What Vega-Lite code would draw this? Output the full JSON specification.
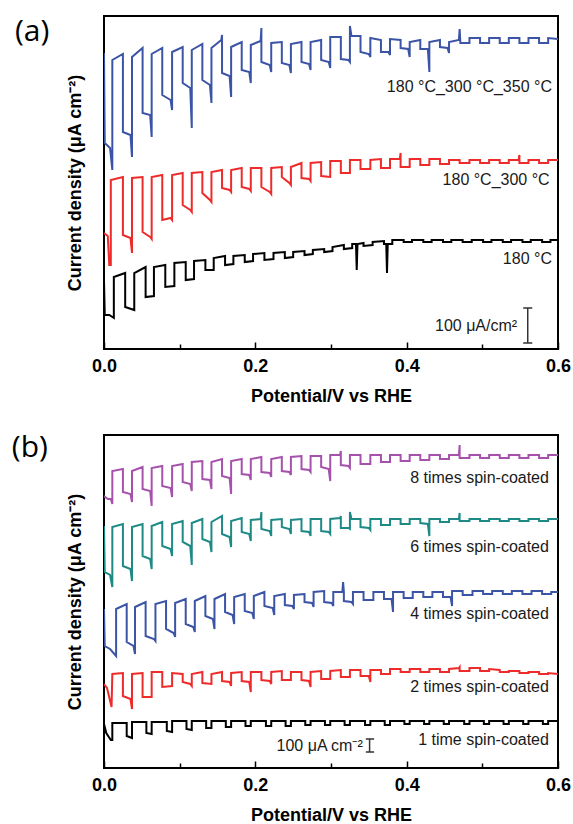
{
"$schema":"https://vega.github.io/schema/vega-lite/v6.json",
"background":"white",
"padding":{"left":10,"top":15,"right":5,"bottom":0},
"spacing":26,
"config":{"view":{"stroke":"black","strokeWidth":2}},
"datasets":{
"c":[
{"s":"a3","x":0,"y":296},{"s":"a3","x":1,"y":206},{"s":"a3","x":8,"y":201},{"s":"a3","x":11,"y":179},
{"s":"a3","x":11,"y":289},{"s":"a3","x":25,"y":295},{"s":"a3","x":25,"y":217},{"s":"a3","x":35,"y":214},
{"s":"a3","x":37,"y":192},{"s":"a3","x":37,"y":292},{"s":"a3","x":51,"y":301},{"s":"a3","x":51,"y":236},{"s":"a3","x":61,"y":234},
{"s":"a3","x":63,"y":212},{"s":"a3","x":63,"y":295},{"s":"a3","x":77,"y":301},{"s":"a3","x":77,"y":254},{"s":"a3","x":88,"y":249},
{"s":"a3","x":90,"y":239},{"s":"a3","x":90,"y":297},{"s":"a3","x":104,"y":302},{"s":"a3","x":104,"y":266},{"s":"a3","x":114,"y":261},
{"s":"a3","x":116,"y":221},{"s":"a3","x":116,"y":299},{"s":"a3","x":130,"y":305},{"s":"a3","x":130,"y":269},{"s":"a3","x":140,"y":264},
{"s":"a3","x":142,"y":246},{"s":"a3","x":142,"y":301},{"s":"a3","x":155,"y":309},{"s":"a3","x":156,"y":314},{"s":"a3","x":156,"y":276},{"s":"a3","x":166,"y":273},
{"s":"a3","x":168,"y":252},{"s":"a3","x":168,"y":302},{"s":"a3","x":182,"y":307},{"s":"a3","x":182,"y":279},{"s":"a3","x":192,"y":277},
{"s":"a3","x":194,"y":266},{"s":"a3","x":194,"y":304},{"s":"a3","x":207,"y":308},{"s":"a3","x":208,"y":321},{"s":"a3","x":208,"y":287},{"s":"a3","x":219,"y":284},
{"s":"a3","x":221,"y":277},{"s":"a3","x":221,"y":306},{"s":"a3","x":235,"y":307},{"s":"a3","x":235,"y":286},{"s":"a3","x":245,"y":284},
{"s":"a3","x":247,"y":276},{"s":"a3","x":247,"y":305},{"s":"a3","x":261,"y":307},{"s":"a3","x":261,"y":287},{"s":"a3","x":271,"y":285},
{"s":"a3","x":273,"y":279},{"s":"a3","x":273,"y":307},{"s":"a3","x":287,"y":309},{"s":"a3","x":287,"y":289},{"s":"a3","x":297,"y":287},
{"s":"a3","x":299,"y":281},{"s":"a3","x":299,"y":312},{"s":"a3","x":313,"y":312},{"s":"a3","x":313,"y":290},{"s":"a3","x":323,"y":289},
{"s":"a3","x":325,"y":287},{"s":"a3","x":325,"y":323},{"s":"a3","x":327,"y":313},{"s":"a3","x":339,"y":313},{"s":"a3","x":339,"y":297},{"s":"a3","x":350,"y":295},
{"s":"a3","x":352,"y":292},{"s":"a3","x":352,"y":311},{"s":"a3","x":366,"y":309},{"s":"a3","x":366,"y":297},{"s":"a3","x":376,"y":297},
{"s":"a3","x":378,"y":294},{"s":"a3","x":378,"y":310},{"s":"a3","x":392,"y":309},{"s":"a3","x":392,"y":301},{"s":"a3","x":402,"y":300},
{"s":"a3","x":404,"y":292},{"s":"a3","x":404,"y":307},{"s":"a3","x":418,"y":309},{"s":"a3","x":418,"y":300},{"s":"a3","x":428,"y":300},
{"s":"a3","x":430,"y":277},{"s":"a3","x":430,"y":307},{"s":"a3","x":444,"y":309},{"s":"a3","x":444,"y":302},{"s":"a3","x":454,"y":301},
{"s":"a3","x":456,"y":296},{"s":"a3","x":456,"y":307},{"s":"a3","x":469,"y":309},{"s":"a3","x":470,"y":320},{"s":"a3","x":471,"y":306},{"s":"a3","x":481,"y":306},
{"s":"a3","x":483,"y":306},{"s":"a3","x":483,"y":311},{"s":"a3","x":497,"y":311},{"s":"a3","x":497,"y":306},
{"s":"a3","x":509,"y":306},{"s":"a3","x":509,"y":311},{"s":"a3","x":523,"y":311},{"s":"a3","x":523,"y":306},
{"s":"a3","x":535,"y":306},{"s":"a3","x":535,"y":311},{"s":"a3","x":549,"y":311},{"s":"a3","x":549,"y":306},
{"s":"a3","x":561,"y":306},{"s":"a3","x":561,"y":311},{"s":"a3","x":575,"y":311},{"s":"a3","x":575,"y":306},
{"s":"a3","x":587,"y":306},{"s":"a3","x":587,"y":311},{"s":"a3","x":600,"y":310},

{"s":"a2","x":0,"y":116},{"s":"a2","x":5,"y":113},{"s":"a2","x":7,"y":84},{"s":"a2","x":9,"y":84},
{"s":"a2","x":9,"y":169},{"s":"a2","x":25,"y":172},{"s":"a2","x":25,"y":114},{"s":"a2","x":35,"y":111},
{"s":"a2","x":37,"y":96},{"s":"a2","x":37,"y":171},{"s":"a2","x":51,"y":172},{"s":"a2","x":51,"y":117},{"s":"a2","x":61,"y":112},
{"s":"a2","x":63,"y":110},{"s":"a2","x":63,"y":172},{"s":"a2","x":77,"y":174},{"s":"a2","x":77,"y":129},{"s":"a2","x":88,"y":131},
{"s":"a2","x":90,"y":129},{"s":"a2","x":90,"y":174},{"s":"a2","x":104,"y":176},{"s":"a2","x":104,"y":144},{"s":"a2","x":114,"y":139},
{"s":"a2","x":116,"y":137},{"s":"a2","x":116,"y":176},{"s":"a2","x":130,"y":177},{"s":"a2","x":130,"y":156},{"s":"a2","x":140,"y":149},
{"s":"a2","x":142,"y":147},{"s":"a2","x":142,"y":177},{"s":"a2","x":156,"y":179},{"s":"a2","x":156,"y":161},{"s":"a2","x":166,"y":159},
{"s":"a2","x":168,"y":157},{"s":"a2","x":168,"y":179},{"s":"a2","x":182,"y":181},{"s":"a2","x":182,"y":162},{"s":"a2","x":192,"y":160},
{"s":"a2","x":194,"y":158},{"s":"a2","x":194,"y":181},{"s":"a2","x":208,"y":181},{"s":"a2","x":208,"y":162},{"s":"a2","x":219,"y":157},
{"s":"a2","x":221,"y":155},{"s":"a2","x":221,"y":181},{"s":"a2","x":235,"y":182},{"s":"a2","x":235,"y":172},{"s":"a2","x":245,"y":166},
{"s":"a2","x":247,"y":164},{"s":"a2","x":247,"y":182},{"s":"a2","x":261,"y":186},{"s":"a2","x":261,"y":171},{"s":"a2","x":271,"y":170},
{"s":"a2","x":273,"y":168},{"s":"a2","x":273,"y":186},{"s":"a2","x":287,"y":187},{"s":"a2","x":287,"y":173},
{"s":"a2","x":299,"y":172},{"s":"a2","x":299,"y":188},{"s":"a2","x":313,"y":188},{"s":"a2","x":313,"y":176},
{"s":"a2","x":325,"y":176},{"s":"a2","x":325,"y":189},{"s":"a2","x":339,"y":189},{"s":"a2","x":339,"y":180},
{"s":"a2","x":352,"y":180},{"s":"a2","x":352,"y":189},{"s":"a2","x":366,"y":190},{"s":"a2","x":366,"y":181},
{"s":"a2","x":378,"y":181},{"s":"a2","x":378,"y":190},{"s":"a2","x":391,"y":190},{"s":"a2","x":392,"y":196},{"s":"a2","x":392,"y":182},
{"s":"a2","x":404,"y":182},{"s":"a2","x":404,"y":190},{"s":"a2","x":418,"y":190},{"s":"a2","x":418,"y":184},
{"s":"a2","x":430,"y":184},{"s":"a2","x":430,"y":190},{"s":"a2","x":444,"y":190},{"s":"a2","x":444,"y":185},
{"s":"a2","x":456,"y":185},{"s":"a2","x":456,"y":189},{"s":"a2","x":470,"y":189},{"s":"a2","x":470,"y":186},
{"s":"a2","x":483,"y":186},{"s":"a2","x":483,"y":189},{"s":"a2","x":497,"y":189},{"s":"a2","x":497,"y":186},
{"s":"a2","x":509,"y":186},{"s":"a2","x":509,"y":189},{"s":"a2","x":523,"y":189},{"s":"a2","x":523,"y":186},
{"s":"a2","x":535,"y":186},{"s":"a2","x":535,"y":189},{"s":"a2","x":548,"y":189},{"s":"a2","x":549,"y":194},{"s":"a2","x":549,"y":186},
{"s":"a2","x":561,"y":186},{"s":"a2","x":561,"y":189},{"s":"a2","x":575,"y":189},{"s":"a2","x":575,"y":186},
{"s":"a2","x":587,"y":186},{"s":"a2","x":587,"y":189},{"s":"a2","x":600,"y":189},

{"s":"a1","x":0,"y":69},{"s":"a1","x":1,"y":34},{"s":"a1","x":7,"y":34},{"s":"a1","x":13,"y":31},
{"s":"a1","x":13,"y":72},{"s":"a1","x":28,"y":76},{"s":"a1","x":28,"y":42},{"s":"a1","x":40,"y":39},
{"s":"a1","x":40,"y":76},{"s":"a1","x":55,"y":82},{"s":"a1","x":55,"y":52},{"s":"a1","x":66,"y":53},
{"s":"a1","x":66,"y":82},{"s":"a1","x":81,"y":84},{"s":"a1","x":81,"y":62},{"s":"a1","x":93,"y":63},
{"s":"a1","x":93,"y":86},{"s":"a1","x":108,"y":87},{"s":"a1","x":108,"y":69},{"s":"a1","x":119,"y":70},
{"s":"a1","x":119,"y":88},{"s":"a1","x":134,"y":89},{"s":"a1","x":134,"y":79},{"s":"a1","x":145,"y":79},
{"s":"a1","x":145,"y":91},{"s":"a1","x":160,"y":93},{"s":"a1","x":160,"y":84},{"s":"a1","x":171,"y":85},
{"s":"a1","x":171,"y":93},{"s":"a1","x":186,"y":94},{"s":"a1","x":186,"y":87},{"s":"a1","x":197,"y":88},
{"s":"a1","x":197,"y":95},{"s":"a1","x":212,"y":96},{"s":"a1","x":212,"y":89},{"s":"a1","x":224,"y":90},
{"s":"a1","x":224,"y":96},{"s":"a1","x":239,"y":97},{"s":"a1","x":239,"y":91},{"s":"a1","x":250,"y":92},
{"s":"a1","x":250,"y":97},{"s":"a1","x":265,"y":98},{"s":"a1","x":265,"y":94},{"s":"a1","x":276,"y":95},
{"s":"a1","x":276,"y":99},{"s":"a1","x":291,"y":100},{"s":"a1","x":291,"y":97},{"s":"a1","x":302,"y":98},
{"s":"a1","x":302,"y":102},{"s":"a1","x":317,"y":104},{"s":"a1","x":317,"y":100},{"s":"a1","x":328,"y":101},
{"s":"a1","x":328,"y":105},{"s":"a1","x":333,"y":105},{"s":"a1","x":334,"y":79},{"s":"a1","x":335,"y":105},{"s":"a1","x":343,"y":106},{"s":"a1","x":343,"y":103},{"s":"a1","x":355,"y":104},
{"s":"a1","x":355,"y":107},{"s":"a1","x":370,"y":108},{"s":"a1","x":370,"y":105},{"s":"a1","x":373,"y":105},{"s":"a1","x":374,"y":76},{"s":"a1","x":375,"y":105},{"s":"a1","x":381,"y":105},
{"s":"a1","x":381,"y":109},{"s":"a1","x":396,"y":109},{"s":"a1","x":396,"y":107},{"s":"a1","x":407,"y":107},
{"s":"a1","x":407,"y":109},{"s":"a1","x":422,"y":109},{"s":"a1","x":422,"y":107},{"s":"a1","x":433,"y":107},
{"s":"a1","x":433,"y":109},{"s":"a1","x":448,"y":109},{"s":"a1","x":448,"y":107},{"s":"a1","x":459,"y":107},
{"s":"a1","x":459,"y":109},{"s":"a1","x":474,"y":109},{"s":"a1","x":474,"y":107},{"s":"a1","x":486,"y":107},
{"s":"a1","x":486,"y":109},{"s":"a1","x":501,"y":109},{"s":"a1","x":501,"y":107},{"s":"a1","x":512,"y":107},
{"s":"a1","x":512,"y":109},{"s":"a1","x":527,"y":109},{"s":"a1","x":527,"y":107},{"s":"a1","x":538,"y":107},
{"s":"a1","x":538,"y":109},{"s":"a1","x":553,"y":109},{"s":"a1","x":553,"y":107},{"s":"a1","x":564,"y":107},
{"s":"a1","x":564,"y":109},{"s":"a1","x":579,"y":109},{"s":"a1","x":579,"y":107},{"s":"a1","x":590,"y":107},
{"s":"a1","x":590,"y":109},{"s":"a1","x":600,"y":109},

{"s":"b8","x":0,"y":272},{"s":"b8","x":5,"y":269},{"s":"b8","x":9,"y":269},{"s":"b8","x":11,"y":264},
{"s":"b8","x":11,"y":297},{"s":"b8","x":25,"y":299},{"s":"b8","x":25,"y":276},{"s":"b8","x":35,"y":274},
{"s":"b8","x":37,"y":266},{"s":"b8","x":37,"y":297},{"s":"b8","x":51,"y":301},{"s":"b8","x":51,"y":279},{"s":"b8","x":61,"y":277},
{"s":"b8","x":63,"y":262},{"s":"b8","x":63,"y":300},{"s":"b8","x":77,"y":302},{"s":"b8","x":77,"y":282},{"s":"b8","x":88,"y":280},
{"s":"b8","x":90,"y":271},{"s":"b8","x":90,"y":302},{"s":"b8","x":104,"y":304},{"s":"b8","x":104,"y":286},{"s":"b8","x":114,"y":284},
{"s":"b8","x":116,"y":277},{"s":"b8","x":116,"y":306},{"s":"b8","x":130,"y":307},{"s":"b8","x":130,"y":289},{"s":"b8","x":140,"y":288},
{"s":"b8","x":142,"y":279},{"s":"b8","x":142,"y":306},{"s":"b8","x":156,"y":309},{"s":"b8","x":156,"y":292},{"s":"b8","x":166,"y":290},
{"s":"b8","x":168,"y":274},{"s":"b8","x":168,"y":307},{"s":"b8","x":182,"y":309},{"s":"b8","x":182,"y":294},{"s":"b8","x":192,"y":293},
{"s":"b8","x":194,"y":288},{"s":"b8","x":194,"y":309},{"s":"b8","x":208,"y":311},{"s":"b8","x":208,"y":296},{"s":"b8","x":219,"y":295},
{"s":"b8","x":221,"y":291},{"s":"b8","x":221,"y":309},{"s":"b8","x":235,"y":311},{"s":"b8","x":235,"y":297},{"s":"b8","x":245,"y":296},
{"s":"b8","x":247,"y":293},{"s":"b8","x":247,"y":311},{"s":"b8","x":261,"y":312},{"s":"b8","x":261,"y":299},{"s":"b8","x":271,"y":298},
{"s":"b8","x":273,"y":296},{"s":"b8","x":273,"y":312},{"s":"b8","x":287,"y":312},{"s":"b8","x":287,"y":301},{"s":"b8","x":297,"y":299},
{"s":"b8","x":299,"y":287},{"s":"b8","x":299,"y":313},{"s":"b8","x":312,"y":313},{"s":"b8","x":313,"y":317},{"s":"b8","x":313,"y":303},{"s":"b8","x":323,"y":302},
{"s":"b8","x":325,"y":300},{"s":"b8","x":325,"y":313},{"s":"b8","x":339,"y":313},{"s":"b8","x":339,"y":304},
{"s":"b8","x":352,"y":304},{"s":"b8","x":352,"y":313},{"s":"b8","x":366,"y":313},{"s":"b8","x":366,"y":306},
{"s":"b8","x":378,"y":306},{"s":"b8","x":378,"y":313},{"s":"b8","x":392,"y":313},{"s":"b8","x":392,"y":307},
{"s":"b8","x":404,"y":307},{"s":"b8","x":404,"y":313},{"s":"b8","x":418,"y":313},{"s":"b8","x":418,"y":308},
{"s":"b8","x":430,"y":308},{"s":"b8","x":430,"y":313},{"s":"b8","x":444,"y":313},{"s":"b8","x":444,"y":309},
{"s":"b8","x":456,"y":309},{"s":"b8","x":456,"y":313},{"s":"b8","x":469,"y":313},{"s":"b8","x":470,"y":323},{"s":"b8","x":470,"y":310},
{"s":"b8","x":483,"y":310},{"s":"b8","x":483,"y":313},{"s":"b8","x":497,"y":313},{"s":"b8","x":497,"y":310},
{"s":"b8","x":509,"y":310},{"s":"b8","x":509,"y":313},{"s":"b8","x":523,"y":313},{"s":"b8","x":523,"y":310},
{"s":"b8","x":535,"y":310},{"s":"b8","x":535,"y":313},{"s":"b8","x":549,"y":313},{"s":"b8","x":549,"y":310},
{"s":"b8","x":561,"y":310},{"s":"b8","x":561,"y":313},{"s":"b8","x":575,"y":313},{"s":"b8","x":575,"y":310},
{"s":"b8","x":587,"y":310},{"s":"b8","x":587,"y":313},{"s":"b8","x":600,"y":313},

{"s":"b6","x":0,"y":242},{"s":"b6","x":1,"y":196},{"s":"b6","x":8,"y":193},{"s":"b6","x":11,"y":181},
{"s":"b6","x":11,"y":241},{"s":"b6","x":25,"y":244},{"s":"b6","x":25,"y":202},{"s":"b6","x":35,"y":199},
{"s":"b6","x":37,"y":187},{"s":"b6","x":37,"y":241},{"s":"b6","x":51,"y":244},{"s":"b6","x":51,"y":212},{"s":"b6","x":61,"y":209},
{"s":"b6","x":63,"y":199},{"s":"b6","x":63,"y":242},{"s":"b6","x":77,"y":246},{"s":"b6","x":77,"y":222},{"s":"b6","x":88,"y":219},
{"s":"b6","x":90,"y":212},{"s":"b6","x":90,"y":244},{"s":"b6","x":104,"y":247},{"s":"b6","x":104,"y":226},{"s":"b6","x":114,"y":222},
{"s":"b6","x":116,"y":203},{"s":"b6","x":116,"y":245},{"s":"b6","x":130,"y":249},{"s":"b6","x":130,"y":229},{"s":"b6","x":140,"y":226},
{"s":"b6","x":142,"y":216},{"s":"b6","x":142,"y":246},{"s":"b6","x":156,"y":252},{"s":"b6","x":156,"y":234},{"s":"b6","x":166,"y":231},
{"s":"b6","x":168,"y":221},{"s":"b6","x":168,"y":247},{"s":"b6","x":182,"y":250},{"s":"b6","x":182,"y":236},{"s":"b6","x":192,"y":234},
{"s":"b6","x":194,"y":227},{"s":"b6","x":194,"y":248},{"s":"b6","x":207,"y":249},{"s":"b6","x":208,"y":256},{"s":"b6","x":208,"y":239},{"s":"b6","x":219,"y":237},
{"s":"b6","x":221,"y":232},{"s":"b6","x":221,"y":248},{"s":"b6","x":235,"y":249},{"s":"b6","x":235,"y":241},{"s":"b6","x":245,"y":239},
{"s":"b6","x":247,"y":234},{"s":"b6","x":247,"y":248},{"s":"b6","x":261,"y":249},{"s":"b6","x":261,"y":237},{"s":"b6","x":271,"y":236},
{"s":"b6","x":273,"y":232},{"s":"b6","x":273,"y":249},{"s":"b6","x":287,"y":249},{"s":"b6","x":287,"y":237},{"s":"b6","x":297,"y":236},
{"s":"b6","x":299,"y":234},{"s":"b6","x":299,"y":249},{"s":"b6","x":312,"y":250},{"s":"b6","x":313,"y":252},{"s":"b6","x":313,"y":240},{"s":"b6","x":323,"y":240},
{"s":"b6","x":325,"y":239},{"s":"b6","x":325,"y":256},{"s":"b6","x":327,"y":249},{"s":"b6","x":339,"y":249},{"s":"b6","x":339,"y":241},{"s":"b6","x":350,"y":240},
{"s":"b6","x":352,"y":238},{"s":"b6","x":352,"y":249},{"s":"b6","x":366,"y":249},{"s":"b6","x":366,"y":243},
{"s":"b6","x":378,"y":243},{"s":"b6","x":378,"y":249},{"s":"b6","x":392,"y":249},{"s":"b6","x":392,"y":244},
{"s":"b6","x":404,"y":244},{"s":"b6","x":404,"y":249},{"s":"b6","x":418,"y":249},{"s":"b6","x":418,"y":245},{"s":"b6","x":428,"y":244},
{"s":"b6","x":430,"y":232},{"s":"b6","x":430,"y":249},{"s":"b6","x":444,"y":249},{"s":"b6","x":444,"y":246},
{"s":"b6","x":456,"y":246},{"s":"b6","x":456,"y":249},{"s":"b6","x":469,"y":249},{"s":"b6","x":470,"y":255},{"s":"b6","x":470,"y":247},
{"s":"b6","x":483,"y":247},{"s":"b6","x":483,"y":249},{"s":"b6","x":497,"y":249},{"s":"b6","x":497,"y":247},
{"s":"b6","x":509,"y":247},{"s":"b6","x":509,"y":249},{"s":"b6","x":523,"y":249},{"s":"b6","x":523,"y":247},
{"s":"b6","x":535,"y":247},{"s":"b6","x":535,"y":249},{"s":"b6","x":549,"y":249},{"s":"b6","x":549,"y":247},
{"s":"b6","x":561,"y":247},{"s":"b6","x":561,"y":249},{"s":"b6","x":575,"y":249},{"s":"b6","x":575,"y":247},
{"s":"b6","x":587,"y":247},{"s":"b6","x":587,"y":249},{"s":"b6","x":600,"y":249},

{"s":"b4","x":0,"y":159},{"s":"b4","x":1,"y":122},{"s":"b4","x":8,"y":119},{"s":"b4","x":16,"y":112},
{"s":"b4","x":16,"y":159},{"s":"b4","x":30,"y":164},{"s":"b4","x":30,"y":126},{"s":"b4","x":39,"y":122},
{"s":"b4","x":41,"y":114},{"s":"b4","x":41,"y":161},{"s":"b4","x":55,"y":166},{"s":"b4","x":55,"y":132},{"s":"b4","x":66,"y":129},
{"s":"b4","x":68,"y":127},{"s":"b4","x":68,"y":164},{"s":"b4","x":82,"y":167},{"s":"b4","x":82,"y":139},{"s":"b4","x":92,"y":135},
{"s":"b4","x":94,"y":131},{"s":"b4","x":94,"y":165},{"s":"b4","x":108,"y":169},{"s":"b4","x":108,"y":144},{"s":"b4","x":118,"y":141},
{"s":"b4","x":120,"y":136},{"s":"b4","x":120,"y":167},{"s":"b4","x":134,"y":172},{"s":"b4","x":134,"y":152},{"s":"b4","x":144,"y":149},
{"s":"b4","x":146,"y":139},{"s":"b4","x":146,"y":169},{"s":"b4","x":160,"y":174},{"s":"b4","x":160,"y":156},{"s":"b4","x":170,"y":153},
{"s":"b4","x":172,"y":144},{"s":"b4","x":172,"y":171},{"s":"b4","x":186,"y":174},{"s":"b4","x":186,"y":157},{"s":"b4","x":196,"y":155},
{"s":"b4","x":198,"y":149},{"s":"b4","x":198,"y":172},{"s":"b4","x":212,"y":176},{"s":"b4","x":212,"y":162},{"s":"b4","x":223,"y":160},
{"s":"b4","x":225,"y":153},{"s":"b4","x":225,"y":172},{"s":"b4","x":239,"y":174},{"s":"b4","x":239,"y":163},{"s":"b4","x":249,"y":162},
{"s":"b4","x":251,"y":159},{"s":"b4","x":251,"y":173},{"s":"b4","x":265,"y":174},{"s":"b4","x":265,"y":166},{"s":"b4","x":275,"y":165},
{"s":"b4","x":277,"y":161},{"s":"b4","x":277,"y":176},{"s":"b4","x":291,"y":177},{"s":"b4","x":291,"y":166},{"s":"b4","x":301,"y":165},
{"s":"b4","x":303,"y":162},{"s":"b4","x":303,"y":176},{"s":"b4","x":315,"y":176},{"s":"b4","x":316,"y":186},{"s":"b4","x":317,"y":176},{"s":"b4","x":317,"y":167},{"s":"b4","x":327,"y":166},
{"s":"b4","x":329,"y":164},{"s":"b4","x":329,"y":176},{"s":"b4","x":343,"y":176},{"s":"b4","x":343,"y":168},
{"s":"b4","x":356,"y":168},{"s":"b4","x":356,"y":176},{"s":"b4","x":370,"y":176},{"s":"b4","x":370,"y":169},{"s":"b4","x":380,"y":169},
{"s":"b4","x":382,"y":156},{"s":"b4","x":382,"y":176},{"s":"b4","x":396,"y":176},{"s":"b4","x":396,"y":170},
{"s":"b4","x":408,"y":170},{"s":"b4","x":408,"y":176},{"s":"b4","x":422,"y":176},{"s":"b4","x":422,"y":171},
{"s":"b4","x":434,"y":171},{"s":"b4","x":434,"y":176},{"s":"b4","x":448,"y":176},{"s":"b4","x":448,"y":171},{"s":"b4","x":458,"y":171},
{"s":"b4","x":460,"y":162},{"s":"b4","x":460,"y":177},{"s":"b4","x":474,"y":177},{"s":"b4","x":474,"y":173},
{"s":"b4","x":487,"y":173},{"s":"b4","x":487,"y":177},{"s":"b4","x":501,"y":177},{"s":"b4","x":501,"y":174},
{"s":"b4","x":513,"y":174},{"s":"b4","x":513,"y":177},{"s":"b4","x":527,"y":177},{"s":"b4","x":527,"y":174},
{"s":"b4","x":539,"y":174},{"s":"b4","x":539,"y":177},{"s":"b4","x":553,"y":177},{"s":"b4","x":553,"y":174},
{"s":"b4","x":565,"y":174},{"s":"b4","x":565,"y":177},{"s":"b4","x":579,"y":177},{"s":"b4","x":579,"y":174},
{"s":"b4","x":591,"y":174},{"s":"b4","x":591,"y":176},{"s":"b4","x":600,"y":176},

{"s":"b2","x":0,"y":84},{"s":"b2","x":4,"y":80},{"s":"b2","x":10,"y":61},
{"s":"b2","x":11,"y":94},{"s":"b2","x":25,"y":95},{"s":"b2","x":25,"y":72},{"s":"b2","x":35,"y":69},
{"s":"b2","x":37,"y":59},{"s":"b2","x":37,"y":94},{"s":"b2","x":51,"y":95},{"s":"b2","x":51,"y":71},
{"s":"b2","x":63,"y":71},{"s":"b2","x":63,"y":96},{"s":"b2","x":77,"y":96},{"s":"b2","x":77,"y":81},
{"s":"b2","x":90,"y":82},{"s":"b2","x":90,"y":95},{"s":"b2","x":104,"y":94},{"s":"b2","x":104,"y":86},{"s":"b2","x":114,"y":84},
{"s":"b2","x":116,"y":82},{"s":"b2","x":116,"y":94},{"s":"b2","x":130,"y":96},{"s":"b2","x":130,"y":85},
{"s":"b2","x":142,"y":84},{"s":"b2","x":142,"y":94},{"s":"b2","x":156,"y":96},{"s":"b2","x":156,"y":87},{"s":"b2","x":166,"y":86},
{"s":"b2","x":168,"y":82},{"s":"b2","x":168,"y":95},{"s":"b2","x":182,"y":96},{"s":"b2","x":182,"y":87},{"s":"b2","x":192,"y":86},
{"s":"b2","x":194,"y":76},{"s":"b2","x":194,"y":96},{"s":"b2","x":208,"y":96},{"s":"b2","x":208,"y":88},{"s":"b2","x":219,"y":87},
{"s":"b2","x":221,"y":84},{"s":"b2","x":221,"y":96},{"s":"b2","x":235,"y":97},{"s":"b2","x":235,"y":88},
{"s":"b2","x":247,"y":88},{"s":"b2","x":247,"y":96},{"s":"b2","x":261,"y":96},{"s":"b2","x":261,"y":88},{"s":"b2","x":271,"y":87},
{"s":"b2","x":273,"y":81},{"s":"b2","x":273,"y":96},{"s":"b2","x":287,"y":97},{"s":"b2","x":287,"y":89},
{"s":"b2","x":299,"y":89},{"s":"b2","x":299,"y":97},{"s":"b2","x":313,"y":98},{"s":"b2","x":313,"y":91},
{"s":"b2","x":325,"y":91},{"s":"b2","x":325,"y":98},{"s":"b2","x":339,"y":98},{"s":"b2","x":339,"y":92},{"s":"b2","x":350,"y":92},
{"s":"b2","x":352,"y":86},{"s":"b2","x":352,"y":98},{"s":"b2","x":366,"y":98},{"s":"b2","x":366,"y":94},
{"s":"b2","x":378,"y":94},{"s":"b2","x":378,"y":99},{"s":"b2","x":392,"y":99},{"s":"b2","x":392,"y":96},
{"s":"b2","x":404,"y":96},{"s":"b2","x":404,"y":99},{"s":"b2","x":418,"y":99},{"s":"b2","x":418,"y":96},
{"s":"b2","x":430,"y":96},{"s":"b2","x":430,"y":99},{"s":"b2","x":444,"y":99},{"s":"b2","x":444,"y":96},
{"s":"b2","x":456,"y":96},{"s":"b2","x":456,"y":99},{"s":"b2","x":469,"y":100},{"s":"b2","x":470,"y":101},{"s":"b2","x":470,"y":97},
{"s":"b2","x":483,"y":97},{"s":"b2","x":483,"y":100},{"s":"b2","x":497,"y":100},{"s":"b2","x":497,"y":97},
{"s":"b2","x":509,"y":97},{"s":"b2","x":509,"y":99},{"s":"b2","x":523,"y":98},{"s":"b2","x":523,"y":96},
{"s":"b2","x":535,"y":96},{"s":"b2","x":535,"y":97},{"s":"b2","x":549,"y":97},{"s":"b2","x":549,"y":95},
{"s":"b2","x":561,"y":95},{"s":"b2","x":561,"y":96},{"s":"b2","x":575,"y":96},{"s":"b2","x":575,"y":94},
{"s":"b2","x":587,"y":94},{"s":"b2","x":587,"y":95},{"s":"b2","x":600,"y":94},

{"s":"b1","x":0,"y":44},{"s":"b1","x":3,"y":35},{"s":"b1","x":9,"y":28},{"s":"b1","x":11,"y":28},
{"s":"b1","x":11,"y":45},{"s":"b1","x":30,"y":45},{"s":"b1","x":30,"y":32},{"s":"b1","x":37,"y":30},
{"s":"b1","x":37,"y":46},{"s":"b1","x":56,"y":46},{"s":"b1","x":56,"y":35},{"s":"b1","x":63,"y":34},
{"s":"b1","x":63,"y":46},{"s":"b1","x":83,"y":46},{"s":"b1","x":83,"y":37},{"s":"b1","x":90,"y":36},
{"s":"b1","x":90,"y":47},{"s":"b1","x":109,"y":47},{"s":"b1","x":109,"y":39},{"s":"b1","x":116,"y":38},
{"s":"b1","x":116,"y":47},{"s":"b1","x":135,"y":47},{"s":"b1","x":135,"y":40},{"s":"b1","x":142,"y":40},
{"s":"b1","x":142,"y":47},{"s":"b1","x":161,"y":47},{"s":"b1","x":161,"y":41},{"s":"b1","x":168,"y":41},
{"s":"b1","x":168,"y":47},{"s":"b1","x":187,"y":47},{"s":"b1","x":187,"y":42},{"s":"b1","x":194,"y":42},
{"s":"b1","x":194,"y":47},{"s":"b1","x":214,"y":47},{"s":"b1","x":214,"y":42},{"s":"b1","x":221,"y":42},
{"s":"b1","x":221,"y":47},{"s":"b1","x":240,"y":47},{"s":"b1","x":240,"y":42},{"s":"b1","x":247,"y":42},
{"s":"b1","x":247,"y":47},{"s":"b1","x":266,"y":47},{"s":"b1","x":266,"y":43},{"s":"b1","x":273,"y":43},
{"s":"b1","x":273,"y":47},{"s":"b1","x":292,"y":47},{"s":"b1","x":292,"y":43},{"s":"b1","x":299,"y":43},
{"s":"b1","x":299,"y":47},{"s":"b1","x":318,"y":47},{"s":"b1","x":318,"y":43},{"s":"b1","x":325,"y":43},
{"s":"b1","x":325,"y":47},{"s":"b1","x":345,"y":47},{"s":"b1","x":345,"y":43},{"s":"b1","x":352,"y":43},
{"s":"b1","x":352,"y":47},{"s":"b1","x":371,"y":47},{"s":"b1","x":371,"y":43},{"s":"b1","x":378,"y":43},
{"s":"b1","x":378,"y":47},{"s":"b1","x":397,"y":47},{"s":"b1","x":397,"y":44},{"s":"b1","x":404,"y":44},
{"s":"b1","x":404,"y":47},{"s":"b1","x":423,"y":47},{"s":"b1","x":423,"y":44},{"s":"b1","x":430,"y":44},
{"s":"b1","x":430,"y":47},{"s":"b1","x":449,"y":47},{"s":"b1","x":449,"y":44},{"s":"b1","x":456,"y":44},
{"s":"b1","x":456,"y":47},{"s":"b1","x":476,"y":47},{"s":"b1","x":476,"y":44},{"s":"b1","x":483,"y":44},
{"s":"b1","x":483,"y":47},{"s":"b1","x":502,"y":47},{"s":"b1","x":502,"y":44},{"s":"b1","x":509,"y":44},
{"s":"b1","x":509,"y":47},{"s":"b1","x":528,"y":47},{"s":"b1","x":528,"y":44},{"s":"b1","x":535,"y":44},
{"s":"b1","x":535,"y":47},{"s":"b1","x":554,"y":47},{"s":"b1","x":554,"y":44},{"s":"b1","x":561,"y":44},
{"s":"b1","x":561,"y":47},{"s":"b1","x":580,"y":47},{"s":"b1","x":580,"y":44},{"s":"b1","x":587,"y":44},
{"s":"b1","x":587,"y":47},{"s":"b1","x":600,"y":47}
],
"lab":[
{"p":"a","x":592,"y":262,"txt":"180 °C_300 °C_350 °C"},
{"p":"a","x":589,"y":169,"txt":"180 °C_300 °C"},
{"p":"a","x":592,"y":90,"txt":"180 °C"},
{"p":"a","x":546,"y":23,"txt":"100 μA/cm²"},
{"p":"b","x":588,"y":290,"txt":"8 times spin-coated"},
{"p":"b","x":588,"y":221,"txt":"6 times spin-coated"},
{"p":"b","x":588,"y":154,"txt":"4 times spin-coated"},
{"p":"b","x":588,"y":81,"txt":"2 times spin-coated"},
{"p":"b","x":588,"y":28,"txt":"1 time spin-coated"},
{"p":"b","x":342,"y":22,"txt":"100 μA cm⁻²"}
],
"pl":[
{"p":"a","x":-95,"y":317,"txt":"(a)"},
{"p":"b","x":-98,"y":320,"txt":"(b)"}
],
"bar":[
{"p":"a","x":560,"x2":560,"y":6,"y2":41},
{"p":"a","x":554,"x2":566,"y":6,"y2":6},
{"p":"a","x":554,"x2":566,"y":41,"y2":41},
{"p":"b","x":351,"x2":351,"y":16,"y2":29},
{"p":"b","x":346,"x2":357,"y":16,"y2":16},
{"p":"b","x":346,"x2":357,"y":29,"y2":29}
]
},
"vconcat":[
{
"width":454,"height":333,
"layer":[
{"data":{"name":"c"},"transform":[{"filter":{"field":"s","oneOf":["a1","a2","a3"]}}],
"mark":{"type":"line","strokeWidth":2,"clip":true},
"encoding":{
"x":{"field":"x","type":"quantitative","scale":{"domain":[0,600],"nice":false,"zero":false},
"axis":{"values":[0,100,200,300,400,500,600],"labelExpr":"datum.value % 200 == 0 ? format(datum.value/1000,'.1f') : ''","labelOverlap":false,"labelFlush":false,"domain":false,"grid":false,"tickColor":"black","tickWidth":1.5,"tickSize":{"condition":{"test":"datum.value % 200 == 0","value":-7},"value":-5},"labelFont":"Liberation Sans","labelFontSize":18,"labelFontWeight":"bold","labelColor":"black","labelPadding":15,"title":"Potential/V vs RHE","titleFont":"Liberation Sans","titleFontSize":18,"titleFontWeight":"bold","titleColor":"black","titlePadding":10}},
"y":{"field":"y","type":"quantitative","scale":{"domain":[0,333],"nice":false,"zero":false},
"axis":{"title":"Current density (μA cm⁻²)","labels":false,"ticks":false,"domain":false,"grid":false,"titleFont":"Liberation Sans","titleFontSize":18,"titleFontWeight":"bold","titleColor":"black","titlePadding":20}},
"color":{"field":"s","type":"nominal","scale":{"domain":["a1","a2","a3","b1","b2","b4","b6","b8"],"range":["#000000","#EE2B2B","#3B54A5","#000000","#EE2B2B","#3B54A5","#1E8A86","#A652AD"]},"legend":null},
"order":{"value":null}
}},
{"data":{"name":"lab"},"transform":[{"filter":"datum.p == 'a'"}],
"mark":{"type":"text","align":"right","baseline":"middle","font":"Liberation Sans","fontSize":16,"color":"#1a1a1a"},
"encoding":{
"x":{"field":"x","type":"quantitative"},
"y":{"field":"y","type":"quantitative"},
"text":{"field":"txt"}}},
{"data":{"name":"pl"},"transform":[{"filter":"datum.p == 'a'"}],
"mark":{"type":"text","align":"center","baseline":"middle","font":"Open Sans","fontSize":30,"color":"black"},
"encoding":{
"x":{"field":"x","type":"quantitative"},
"y":{"field":"y","type":"quantitative"},
"text":{"field":"txt"}}},
{"data":{"name":"bar"},"transform":[{"filter":"datum.p == 'a'"}],
"mark":{"type":"rule","strokeWidth":1.5,"color":"#333333"},
"encoding":{
"x":{"field":"x","type":"quantitative"},
"x2":{"field":"x2"},
"y":{"field":"y","type":"quantitative"},
"y2":{"field":"y2"}}}
]
},
{
"width":454,"height":333,
"layer":[
{"data":{"name":"c"},"transform":[{"filter":{"field":"s","oneOf":["b1","b2","b4","b6","b8"]}}],
"mark":{"type":"line","strokeWidth":2,"clip":true},
"encoding":{
"x":{"field":"x","type":"quantitative","scale":{"domain":[0,600],"nice":false,"zero":false},
"axis":{"values":[0,100,200,300,400,500,600],"labelExpr":"datum.value % 200 == 0 ? format(datum.value/1000,'.1f') : ''","labelOverlap":false,"labelFlush":false,"domain":false,"grid":false,"tickColor":"black","tickWidth":1.5,"tickSize":{"condition":{"test":"datum.value % 200 == 0","value":-7},"value":-5},"labelFont":"Liberation Sans","labelFontSize":18,"labelFontWeight":"bold","labelColor":"black","labelPadding":15,"title":"Potential/V vs RHE","titleFont":"Liberation Sans","titleFontSize":18,"titleFontWeight":"bold","titleColor":"black","titlePadding":10}},
"y":{"field":"y","type":"quantitative","scale":{"domain":[0,333],"nice":false,"zero":false},
"axis":{"title":"Current density (μA cm⁻²)","labels":false,"ticks":false,"domain":false,"grid":false,"titleFont":"Liberation Sans","titleFontSize":18,"titleFontWeight":"bold","titleColor":"black","titlePadding":20}},
"color":{"field":"s","type":"nominal","scale":{"domain":["a1","a2","a3","b1","b2","b4","b6","b8"],"range":["#000000","#EE2B2B","#3B54A5","#000000","#EE2B2B","#3B54A5","#1E8A86","#A652AD"]},"legend":null},
"order":{"value":null}
}},
{"data":{"name":"lab"},"transform":[{"filter":"datum.p == 'b'"}],
"mark":{"type":"text","align":"right","baseline":"middle","font":"Liberation Sans","fontSize":16,"color":"#1a1a1a"},
"encoding":{
"x":{"field":"x","type":"quantitative"},
"y":{"field":"y","type":"quantitative"},
"text":{"field":"txt"}}},
{"data":{"name":"pl"},"transform":[{"filter":"datum.p == 'b'"}],
"mark":{"type":"text","align":"center","baseline":"middle","font":"Open Sans","fontSize":30,"color":"black"},
"encoding":{
"x":{"field":"x","type":"quantitative"},
"y":{"field":"y","type":"quantitative"},
"text":{"field":"txt"}}},
{"data":{"name":"bar"},"transform":[{"filter":"datum.p == 'b'"}],
"mark":{"type":"rule","strokeWidth":1.5,"color":"#333333"},
"encoding":{
"x":{"field":"x","type":"quantitative"},
"x2":{"field":"x2"},
"y":{"field":"y","type":"quantitative"},
"y2":{"field":"y2"}}}
]
}
]
}
